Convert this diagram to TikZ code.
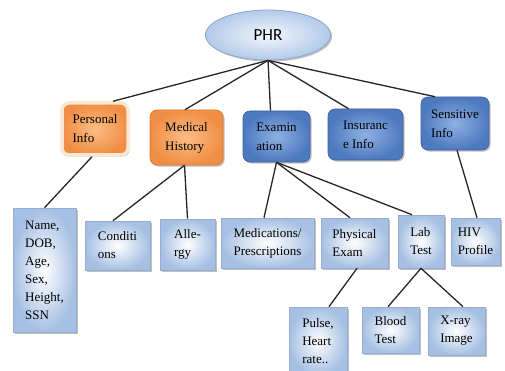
\documentclass[tikz,border=0pt]{standalone}
\usepackage{fontspec}
\setmainfont{Liberation Serif}
\newfontfamily\phrfont{Carlito}
\usetikzlibrary{shadows,calc,shapes.geometric}
\definecolor{bluein}{HTML}{8FB1E3}
\definecolor{blueout}{HTML}{4D79BF}
\definecolor{blueedge}{HTML}{3A5F9C}
\definecolor{orgin}{HTML}{FBBE86}
\definecolor{orgout}{HTML}{F08E45}
\definecolor{orgedge}{HTML}{D9782F}
\definecolor{glow}{HTML}{F9E7D2}
\definecolor{leafout}{HTML}{A6C0E3}
\definecolor{leafedge}{HTML}{93ADD3}
\definecolor{ellin}{HTML}{F3F7FC}
\definecolor{ellout}{HTML}{B3CAEA}
\definecolor{elledge}{HTML}{8CA6CB}
\begin{document}
\begin{tikzpicture}[x=1pt,y=-1pt,
  conn/.style={draw=black!85, line width=1.3pt},
  shad/.style={drop shadow={shadow xshift=1.6pt,shadow yshift=-1.6pt,fill=black!45,opacity=0.55}},
  topbox/.style={rounded corners=7pt, align=left, inner sep=0pt, shad,
    font=\fontsize{13}{19}\selectfont},
  bluebox/.style={topbox, draw=blueedge, line width=0.6pt, shading=radial, inner color=bluein, outer color=blueout},
  orangebox/.style={topbox, draw=orgedge, line width=0.6pt, shading=radial, inner color=orgin, outer color=orgout},
  leafbox/.style={draw=leafedge, line width=0.6pt, shading=radial, inner color=white, outer color=leafout,
    align=left, inner sep=0pt, shad, font=\fontsize{13}{18}\selectfont},
  sz/.style 2 args={minimum width=#1pt, minimum height=#2pt}
]
\useasboundingbox (0,0) rectangle (505,371);

% root
\node[ellipse, draw=elledge, line width=0.8pt, shading=radial, inner color=ellin, outer color=ellout,
  minimum width=125pt, minimum height=50pt, shad, font=\phrfont\fontsize{17}{20}\selectfont] (phr) at (268,35) {PHR};

% top row
\node[orangebox, sz={66}{52}, draw=glow, line width=3.5pt] (personal) at (95,129) {Personal\\Info};
\node[orangebox, sz={73}{55}] (medical) at (186.5,137.5) {Medical\\History};
\node[bluebox, sz={67}{51}] (exam) at (276.5,136.5) {Examin\\ation};
\node[bluebox, sz={75}{51}] (insurance) at (365.5,134.5) {Insuranc\\e Info};
\node[bluebox, sz={68}{53}] (sensitive) at (455,123.5) {Sensitive\\Info};

% leaves
\node[leafbox, sz={63}{124}] (name) at (44.5,270) {Name,\\DOB,\\Age,\\Sex,\\Height,\\SSN};
\node[leafbox, sz={65}{49}] (cond) at (117.5,245.5) {Conditi\\ons};
\node[leafbox, sz={55}{51}] (allergy) at (187.5,244.5) {Alle-\\rgy};
\node[leafbox, sz={93}{50}] (meds) at (267.5,243) {Medications/\\Prescriptions};
\node[leafbox, sz={67}{50}] (phys) at (354.5,243) {Physical\\Exam};
\node[leafbox, sz={46}{53}] (lab) at (421,241.5) {Lab\\Test};
\node[leafbox, sz={49}{47}] (hiv) at (475.5,241.5) {HIV\\Profile};
\node[leafbox, sz={58}{68}] (pulse) at (318,341) {Pulse,\\Heart\\rate..};
\node[leafbox, sz={57}{46}] (blood) at (390.5,330) {Blood\\Test};
\node[leafbox, sz={57}{48}] (xray) at (456.5,331) {X-ray\\Image};

% connectors
\begin{scope}[on background layer/.style={}]
\end{scope}
\draw[conn] (phr.south) -- ([xshift=18pt]personal.north);
\draw[conn] (phr.south) -- ([xshift=-1.5pt]medical.north);
\draw[conn] (phr.south) -- ([xshift=-6pt]exam.north);
\draw[conn] (phr.south) -- ([xshift=-17pt]insurance.north);
\draw[conn] (phr.south) -- ([xshift=-20pt]sensitive.north);

\draw[conn] ([xshift=-3pt]personal.south) -- (name.north);
\draw[conn] ([xshift=-2pt]medical.south) -- ([xshift=-4.5pt]cond.north);
\draw[conn] ([xshift=-2pt]medical.south) -- (allergy.north);
\draw[conn] (exam.south) -- ([xshift=-3.5pt]meds.north);
\draw[conn] (exam.south) -- ([xshift=-4.5pt]phys.north);
\draw[conn] (exam.south) -- ([xshift=-9pt]lab.north);
\draw[conn] ([xshift=2pt]sensitive.south) -- ([xshift=1.5pt]hiv.north);
\draw[conn] ([xshift=2.5pt]phys.south) -- ([xshift=11pt]pulse.north);
\draw[conn] (lab.south) -- ([xshift=-2.5pt]blood.north);
\draw[conn] (lab.south) -- ([xshift=6.5pt]xray.north);
\end{tikzpicture}
\end{document}
